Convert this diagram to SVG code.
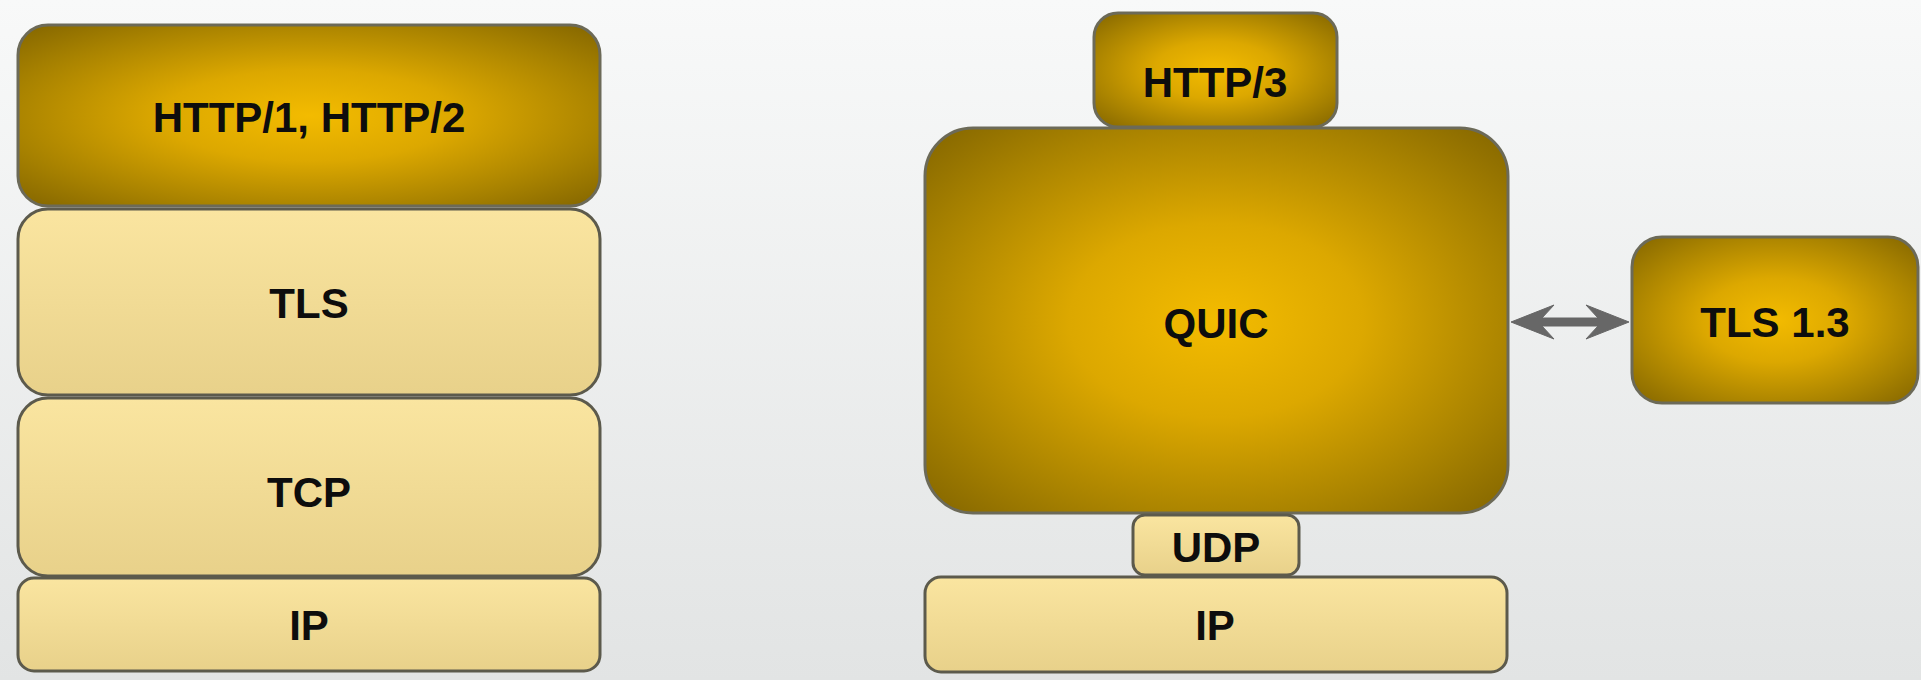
<svg xmlns="http://www.w3.org/2000/svg" width="1921" height="680" viewBox="0 0 1921 680">
  <defs>
    <linearGradient id="bg" x1="0" y1="0" x2="0" y2="1">
      <stop offset="0" stop-color="#f8f9f9"/>
      <stop offset="1" stop-color="#e2e4e4"/>
    </linearGradient>
    <radialGradient id="gold" cx="0.5" cy="0.5" r="0.72">
      <stop offset="0" stop-color="#f3bb00"/>
      <stop offset="0.35" stop-color="#dca800"/>
      <stop offset="0.72" stop-color="#a88200"/>
      <stop offset="1" stop-color="#806300"/>
    </radialGradient>
    <linearGradient id="pale" x1="0" y1="0" x2="0" y2="1">
      <stop offset="0" stop-color="#fae5a0"/>
      <stop offset="1" stop-color="#e8d18a"/>
    </linearGradient>
  </defs>
  <style>
    .dark { fill: url(#gold); stroke: #6c6a58; stroke-width: 3; }
    .light { fill: url(#pale); stroke: #5c5a4c; stroke-width: 3; }
    .label { font-family: "Liberation Sans", Arial, sans-serif; font-weight: bold; font-size: 42px; fill: #0d0d0d; text-anchor: middle; }
    .link { fill: #676767; stroke: #676767; stroke-width: 1; stroke-linejoin: miter; }
  </style>

  <rect width="1921" height="680" fill="url(#bg)"/>

  <!-- TCP-based stack -->
  <g id="http12">
    <rect class="dark" x="18" y="25" width="582" height="181" rx="30"/>
    <text class="label" x="309" y="132">HTTP/1, HTTP/2</text>
  </g>
  <g id="tls">
    <rect class="light" x="18" y="209" width="582" height="186" rx="30"/>
    <text class="label" x="309" y="318">TLS</text>
  </g>
  <g id="tcp">
    <rect class="light" x="18" y="398" width="582" height="178" rx="30"/>
    <text class="label" x="309" y="507">TCP</text>
  </g>
  <g id="ip-left">
    <rect class="light" x="18" y="578" width="582" height="93" rx="16"/>
    <text class="label" x="309" y="640">IP</text>
  </g>

  <!-- QUIC-based stack -->
  <g id="http3">
    <rect class="dark" x="1094" y="13" width="243" height="114" rx="24"/>
    <text class="label" x="1215" y="97">HTTP/3</text>
  </g>
  <g id="quic">
    <rect class="dark" x="925" y="128" width="583" height="385" rx="48"/>
    <text class="label" x="1216" y="338">QUIC</text>
  </g>
  <g id="udp">
    <rect class="light" x="1133" y="515" width="166" height="60" rx="12"/>
    <text class="label" x="1216" y="562">UDP</text>
  </g>
  <g id="ip-right">
    <rect class="light" x="925" y="577" width="582" height="95" rx="16"/>
    <text class="label" x="1215" y="640">IP</text>
  </g>
  <g id="tls13">
    <rect class="dark" x="1632" y="237" width="286" height="166" rx="30"/>
    <text class="label" x="1775" y="337">TLS 1.3</text>
  </g>

  <!-- double-headed link between QUIC and TLS 1.3 -->
  <g id="connectors">
    <path class="link" d="M1511,322 L1554,305 L1542,318 L1598,318 L1586,305 L1629,322 L1586,339 L1598,326 L1542,326 L1554,339 Z"/>
  </g>
</svg>
